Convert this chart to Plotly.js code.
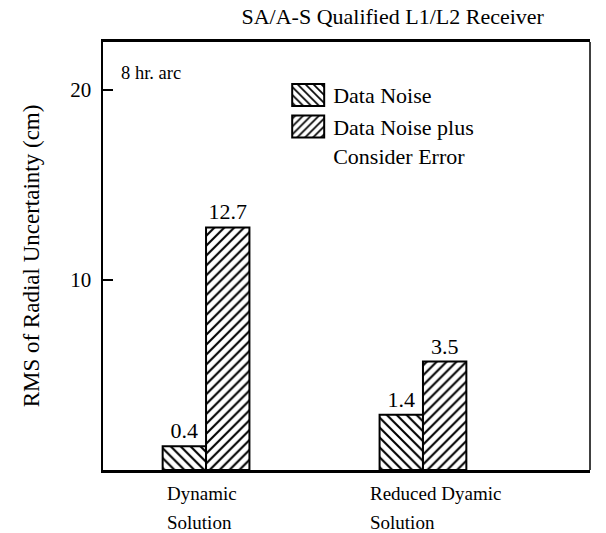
<!DOCTYPE html>
<html><head><meta charset="utf-8">
<script src="https://cdn.plot.ly/plotly-3.0.1.min.js"></script>
<style>body{margin:0;background:#fff}</style>
</head><body><div id="chart" style="width:606px;height:533px"></div>
<script>
const categories = ["Dynamic Solution", "Reduced Dyamic Solution"];
const categoryLines1 = ["Dynamic", "Reduced Dyamic"];
const categoryLines2 = ["Solution", "Solution"];
const seriesNames = ["Data Noise", "Data Noise plus<br>Consider Error"];
// bar heights as drawn in the figure (cm)
const dataNoise = [1.25, 2.9];
const dataNoiseLabels = ["0.4", "1.4"];
const considerError = [12.75, 5.7];
const considerErrorLabels = ["12.7", "3.5"];
const yTicks = [10, 20];

const FONT = "Liberation Serif, Times New Roman, serif";
const barCommon = {
  type: "bar",
  textposition: "outside",
  cliponaxis: false,
  textfont: {family: FONT, size: 22, color: "#000"},
  hoverinfo: "none"
};
const traces = [
  Object.assign({}, barCommon, {
    name: seriesNames[0], x: categories, y: dataNoise, text: dataNoiseLabels,
    marker: {color: "#fff", line: {color: "#000", width: 2},
      pattern: {shape: "\\", fgcolor: "#000", bgcolor: "#fff", size: 7, solidity: 0.3}}
  }),
  Object.assign({}, barCommon, {
    name: seriesNames[1], x: categories, y: considerError, text: considerErrorLabels,
    marker: {color: "#fff", line: {color: "#000", width: 2},
      pattern: {shape: "/", fgcolor: "#000", bgcolor: "#fff", size: 7, solidity: 0.3}}
  })
];

const annotations = [];
categories.forEach((c, i) => {
  const shift = i === 0 ? -41 : -55;
  [categoryLines1[i], categoryLines2[i]].forEach((line, k) => {
    annotations.push({
      x: c, xref: "x", y: 0, yref: "paper", yanchor: "top", xanchor: "left",
      xshift: shift, yshift: -11 - 29 * k, text: line, showarrow: false,
      font: {family: FONT, size: 19, color: "#000"}
    });
  });
});
annotations.push({
  x: 0.032, xref: "paper", y: 0.955, yref: "paper", xanchor: "left", yanchor: "top",
  text: "8 hr. arc", showarrow: false, font: {family: FONT, size: 18.5, color: "#000"}
});

const layout = {
  width: 606, height: 533,
  margin: {l: 103, r: 16, t: 42, b: 63},
  paper_bgcolor: "#fff", plot_bgcolor: "#fff",
  font: {family: FONT, color: "#000"},
  title: {text: "SA/A-S Qualified L1/L2 Receiver", x: 0.648, xanchor: "center", y: 0.983, yanchor: "top",
    font: {family: FONT, size: 22, color: "#000"}},
  barmode: "group", bargap: 0.6, bargroupgap: 0,
  showlegend: true,
  legend: {x: 0.37, y: 0.925, xanchor: "left", yanchor: "top", bgcolor: "rgba(0,0,0,0)",
    font: {family: FONT, size: 22, color: "#000"}, itemwidth: 40, valign: "top"},
  xaxis: {type: "category", range: [-0.475, 1.77], showticklabels: false, ticks: "",
    showline: true, linecolor: "#000", linewidth: 3, mirror: true, showgrid: false, zeroline: false},
  yaxis: {range: [0, 22.5], tickvals: yTicks, ticktext: yTicks.map(String), ticks: "inside",
    ticklen: 10, tickwidth: 2, tickcolor: "#000", showline: true, linecolor: "#000", linewidth: 2.5,
    showgrid: false, zeroline: false, ticklabelstandoff: 5, tickfont: {family: FONT, size: 21, color: "#000"},
    title: {text: "RMS of Radial Uncertainty (cm)", standoff: 24, font: {family: FONT, size: 23, color: "#000"}}},
  shapes: [{type: "line", xref: "paper", yref: "paper", x0: 1, x1: 1, y0: 0, y1: 1,
    line: {color: "#000", width: 1.5}}],
  annotations: annotations
};

Plotly.newPlot("chart", traces, layout, {staticPlot: true}).then(() => {
  // larger legend swatches, as in the reference
  document.querySelectorAll(".legend .legendpoints path").forEach(p => {
    p.setAttribute("d", "M16,11H-16V-11H16Z");
    p.style.strokeWidth = "2px";
  });
});
</script></body></html>
